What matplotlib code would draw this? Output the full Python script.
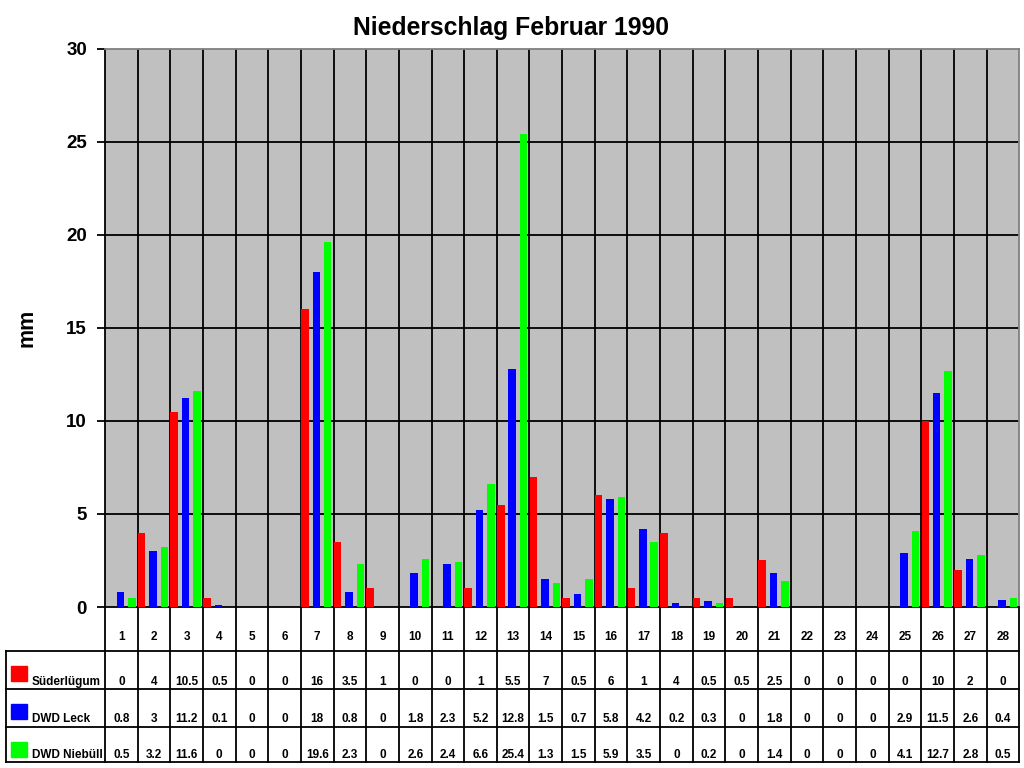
import numpy as np
import matplotlib
matplotlib.use('Agg')
import matplotlib.pyplot as plt
from matplotlib.patches import Rectangle

plt.rcParams['font.family'] = ['Liberation Sans', 'DejaVu Sans']
plt.rcParams['font.weight'] = 'bold'

days = list(range(1, 29))
series_names = ['Süderlügum', 'DWD Leck', 'DWD Niebüll']
colors = ['#FF0000', '#0000FF', '#00FF00']

suederluegum = [0, 4, 10.5, 0.5, 0, 0, 16, 3.5, 1, 0, 0, 1, 5.5, 7,
                0.5, 6, 1, 4, 0.5, 0.5, 2.5, 0, 0, 0, 0, 10, 2, 0]
leck = [0.8, 3, 11.2, 0.1, 0, 0, 18, 0.8, 0, 1.8, 2.3, 5.2, 12.8, 1.5,
        0.7, 5.8, 4.2, 0.2, 0.3, 0, 1.8, 0, 0, 0, 2.9, 11.5, 2.6, 0.4]
niebuell = [0.5, 3.2, 11.6, 0, 0, 0, 19.6, 2.3, 0, 2.6, 2.4, 6.6, 25.4, 1.3,
            1.5, 5.9, 3.5, 0, 0.2, 0, 1.4, 0, 0, 0, 4.1, 12.7, 2.8, 0.5]
values = [suederluegum, leck, niebuell]

W, H = 1024, 768
fig = plt.figure(figsize=(W / 100, H / 100), dpi=100)
left, right, top, bottom = 105, 1019.3, 48.5, 607
ax = fig.add_axes([left / W, 1 - bottom / H, (right - left) / W, (bottom - top) / H])
ax.set_facecolor('#C0C0C0')

x = np.arange(len(days))
offs = [-0.38, -0.03, 0.32]
for vals, c, o in zip(values, colors, offs):
    ax.bar(x + o, vals, width=0.23, color=c, zorder=3)

ax.set_xlim(-0.5, len(days) - 0.5)
ax.set_ylim(0, 30)
ax.set_yticks(range(0, 31, 5))
ax.set_xticks([])
for yv in range(5, 30, 5):
    ax.axhline(yv, color='black', lw=1.3, zorder=1)
for xv in np.arange(0.5, len(days) - 1, 1):
    ax.axvline(xv, color='black', lw=1.3, zorder=1)

for s in ['top', 'right']:
    ax.spines[s].set_color('#808080')
    ax.spines[s].set_linewidth(1.3)
for s in ['left', 'bottom']:
    ax.spines[s].set_color('black')
    ax.spines[s].set_linewidth(1.3)
ax.tick_params(axis='y', length=6, width=1.3, pad=7, labelsize=13.5)
for lab in ax.get_yticklabels():
    lab.set_fontweight('bold')

ax.set_ylabel('mm', fontsize=15.5, fontweight='bold', labelpad=21)
fig.text(511 / W, 1 - 28 / H, 'Niederschlag Februar 1990', ha='center', va='center',
         fontsize=17.8, fontweight='bold')

# data table below the plot
tr = ax.get_xaxis_transform()
ph = bottom - top
def fy(py):
    return -(py - bottom) / ph

rows = [607, 651, 689, 726.5, 762]
xl = -0.5 - (left - 6) / ((right - left) / len(days))
lk = dict(color='black', lw=1.3, transform=tr, clip_on=False)
# horizontal lines
for r in rows[1:]:
    ax.plot([xl, len(days) - 0.5], [fy(r), fy(r)], **lk)
# vertical lines
for xv in np.arange(-0.5, len(days), 1):
    ax.plot([xv, xv], [fy(rows[0]), fy(rows[-1])], **lk)
ax.plot([xl, xl], [fy(rows[1]), fy(rows[-1])], **lk)

for i, d in enumerate(days):
    ax.text(i, fy(rows[1] - 11), str(d), transform=tr, ha='center', va='baseline',
            fontsize=8.5, fontweight='bold')
for k, (name, vals, c) in enumerate(zip(series_names, values, colors)):
    base = rows[k + 2] - 4
    for i, v in enumerate(vals):
        ax.text(i, fy(base), f'{v:g}', transform=tr, ha='center', va='baseline',
                fontsize=8.5, fontweight='bold')
    fig.text(32 / W, 1 - base / H, name, ha='left', va='baseline',
             fontsize=8.5, fontweight='bold')
    sq_top = rows[k + 1] + 15
    fig.add_artist(Rectangle((11 / W, 1 - (sq_top + 15) / H), 15.5 / W, 15 / H,
                             transform=fig.transFigure, color=c))

fig.savefig('out.png', dpi=100)
